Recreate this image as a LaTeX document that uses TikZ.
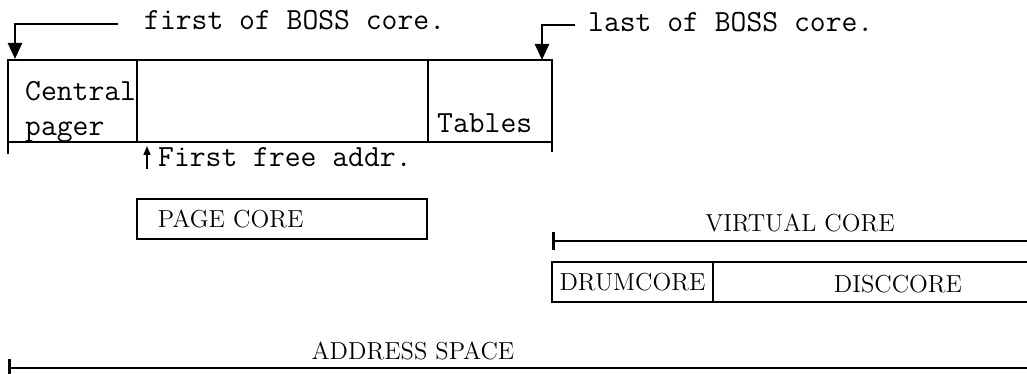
\documentclass[tikz,border=0pt]{standalone}
\usetikzlibrary{arrows.meta,positioning}

\begin{document}
\begin{tikzpicture}[
  x=0.02cm, y=-0.02cm,
  line width=1.4pt,
  tw/.style={font=\fontsize{17.5}{20}\selectfont\ttfamily, inner sep=0pt},
  lbl/.style={font=\fontsize{14}{17}\selectfont, inner sep=0pt},
  cell/.style={draw, anchor=north west, inner sep=0pt, outer sep=0pt, minimum height=1.64cm},
  strip/.style={draw, anchor=north west, lbl, outer sep=0pt, minimum height=0.8cm},
  ptr/.style={-{Triangle[width=0.28cm,length=0.32cm]}},
  tinyptr/.style={line width=0.9pt, -{Triangle[width=0.14cm,length=0.18cm]}},
  span/.style={arrows={Bar[width=0.36cm,line width=1.8pt]-}}
]
\useasboundingbox (0,0) rectangle (1027,374);
\coordinate (rim) at (1027,0);

% BOSS core
\node[cell, minimum width=2.58cm] (pager) at (8,60) {};
\node[cell, minimum width=5.82cm, right=0pt of pager] (freearea) {};
\node[cell, minimum width=2.48cm, right=0pt of freearea] (tables) {};
\draw (pager.south west) -- ++(0,12);
\draw (tables.south east) -- ++(0,10);
\node[tw, anchor=north west, align=left] (pagertxt) at (24,80) {Central\\pager};
\node[tw, anchor=base west] (tablestxt) at (436,133) {Tables};

% pointers into it
\coordinate (firsttail) at (118,24);
\coordinate (firsthead) at (15,59);
\draw[ptr] (firsttail) -| (firsthead);
\node[tw, anchor=base west] (firsttxt) at (143,30) {first of BOSS core.};
\coordinate (lasttail) at (575,25);
\coordinate (lasthead) at (542,60);
\draw[ptr] (lasttail) -| (lasthead);
\node[tw, anchor=base west] (lasttxt) at (587,32) {last of BOSS core.};
\coordinate (freetail) at (147,169);
\coordinate (freehead) at (147,146);
\draw[tinyptr] (freetail) -- (freehead);
\node[tw, anchor=base west] (freetxt) at (157,167) {First free addr.};

% page core
\node[strip, minimum width=5.8cm, inner xsep=0.42cm, text width=4.96cm, align=left] (pagecore) at (137,199) {PAGE CORE};

% virtual core
\coordinate (vcore) at (552,241);
\draw[span] (vcore) -- (vcore -| rim);
\node[lbl, anchor=base] (vcoretxt) at (800,232) {VIRTUAL CORE};
\node[strip, minimum width=3.22cm] (drum) at (552,262) {DRUMCORE};
\draw (drum.north east) -- (drum.north east -| rim);
\draw (drum.south east) -- (drum.south east -| rim);
\node[lbl, anchor=base] (disc) at (898,293) {DISCCORE};

% address space
\coordinate (aspace) at (8,368);
\draw[span] (aspace) -- (aspace -| rim);
\node[lbl, anchor=base] (aspacetxt) at (413,360) {ADDRESS SPACE};
\end{tikzpicture}
\end{document}
